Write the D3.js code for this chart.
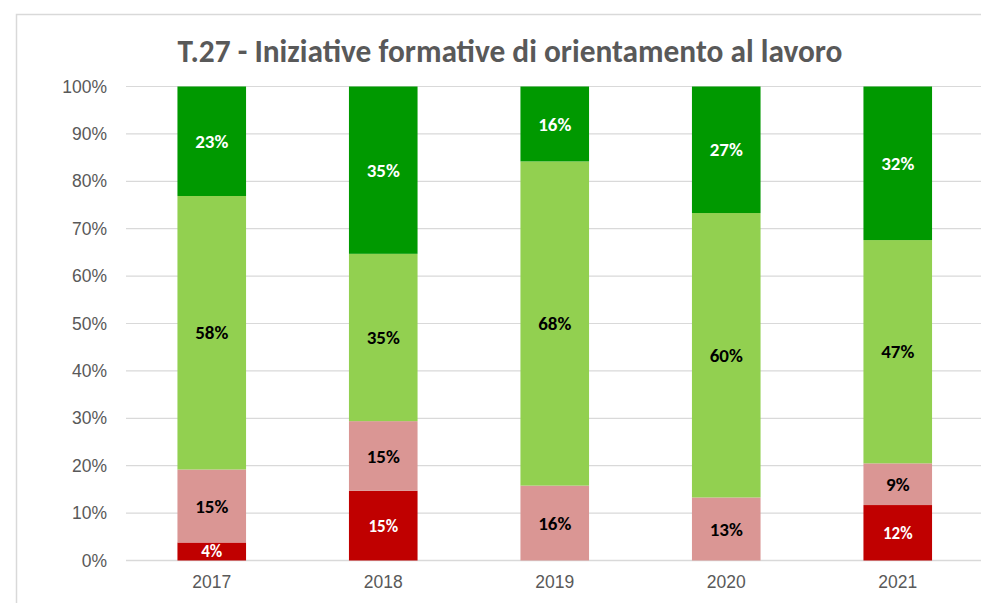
<!DOCTYPE html>
<html>
<head>
<meta charset="utf-8">
<script src="https://cdn.jsdelivr.net/npm/d3@7"></script>
<style>
  body { margin: 0; background: #fff; }
  svg { font-family: Carlito, Calibri, Lato, sans-serif; }
</style>
</head>
<body>
<svg id="chart"></svg>
<script>
const years = ["2017", "2018", "2019", "2020", "2021"];
const seriesNames = ["a", "b", "c", "d"];
const darkRed = [3.8, 14.7, 0, 0, 11.7];
const pink = [15.4, 14.7, 15.8, 13.3, 8.8];
const lightGreen = [57.7, 35.3, 68.4, 60.0, 47.1];
const darkGreen = [23.1, 35.3, 15.8, 26.7, 32.4];
const yTicks = [0, 10, 20, 30, 40, 50, 60, 70, 80, 90, 100];
const titleText = "T.27 - Iniziative formative di orientamento al lavoro";

const width = 981;
const height = 603;
const colors = ["#c00000", "#da9694", "#92d050", "#009900"];
const labelColors = ["#fff", "#000", "#000", "#fff"];
const labelSizes = [17, 19, 19, 19];

const svg = d3.select("#chart")
    .attr("width", width)
    .attr("height", height);

// chart frame (cropped on right and bottom)
svg.append("path")
    .attr("d", `M16.5,${height} V14.5 H${width}`)
    .attr("fill", "none")
    .attr("stroke", "#d9d9d9")
    .attr("stroke-width", 1.5);

const rows = years.map((y, i) => ({
    year: y, a: darkRed[i], b: pink[i], c: lightGreen[i], d: darkGreen[i]
}));
const stacked = d3.stack().keys(seriesNames)(rows);

const x = d3.scaleBand()
    .domain(years)
    .range([126, 983.5])
    .paddingInner(0.6)
    .paddingOuter(0.3);

const yScale = d3.scaleLinear()
    .domain([0, 100])
    .range([560.5, 86.5]);

// gridlines
svg.append("g")
    .selectAll("line")
    .data(yTicks)
    .join("line")
    .attr("x1", 126)
    .attr("x2", width)
    .attr("y1", d => yScale(d))
    .attr("y2", d => yScale(d))
    .attr("stroke", "#d9d9d9")
    .attr("stroke-width", d => d === 0 ? 1.5 : 1.2);

const yAxis = d3.axisLeft(yScale)
    .tickValues(yTicks)
    .tickFormat(d => d + "%")
    .tickSize(0)
    .tickPadding(0);

svg.append("g")
    .attr("transform", "translate(107,0)")
    .call(yAxis)
    .call(g => g.select(".domain").remove())
    .call(g => g.selectAll("text")
        .attr("font-size", 17.5)
        .attr("fill", "#595959")
        .attr("font-family", null));

const xAxis = d3.axisBottom(x).tickSize(0).tickPadding(0);
svg.append("g")
    .attr("transform", "translate(0,576)")
    .call(xAxis)
    .call(g => g.select(".domain").remove())
    .call(g => g.selectAll("text")
        .attr("font-size", 17.5)
        .attr("fill", "#595959")
        .attr("font-family", null));

// bars
const groups = svg.append("g")
    .selectAll("g")
    .data(stacked)
    .join("g")
    .attr("fill", (d, i) => colors[i]);

groups.selectAll("rect")
    .data(d => d)
    .join("rect")
    .attr("x", d => x(d.data.year))
    .attr("width", x.bandwidth())
    .attr("y", d => yScale(d[1]))
    .attr("height", d => yScale(d[0]) - yScale(d[1]));

// data labels
stacked.forEach((s, i) => {
    svg.append("g")
        .selectAll("text")
        .data(s.filter(d => d[1] - d[0] > 0))
        .join("text")
        .attr("x", d => x(d.data.year) + x.bandwidth() / 2)
        .attr("y", d => yScale((d[0] + d[1]) / 2))
        .attr("dy", "0.35em")
        .attr("text-anchor", "middle")
        .attr("font-weight", "bold")
        .attr("font-size", labelSizes[i])
        .attr("fill", labelColors[i])
        .text(d => Math.round(d[1] - d[0]) + "%");
});

// title, sized to the reference width
const title = svg.append("text")
    .attr("x", 510)
    .attr("y", 62)
    .attr("text-anchor", "middle")
    .attr("font-weight", "bold")
    .attr("font-size", 26)
    .attr("fill", "#595959")
    .text(titleText);
const len = title.node().getComputedTextLength();
title.attr("font-size", 26 * 665 / len);
</script>
</body>
</html>
